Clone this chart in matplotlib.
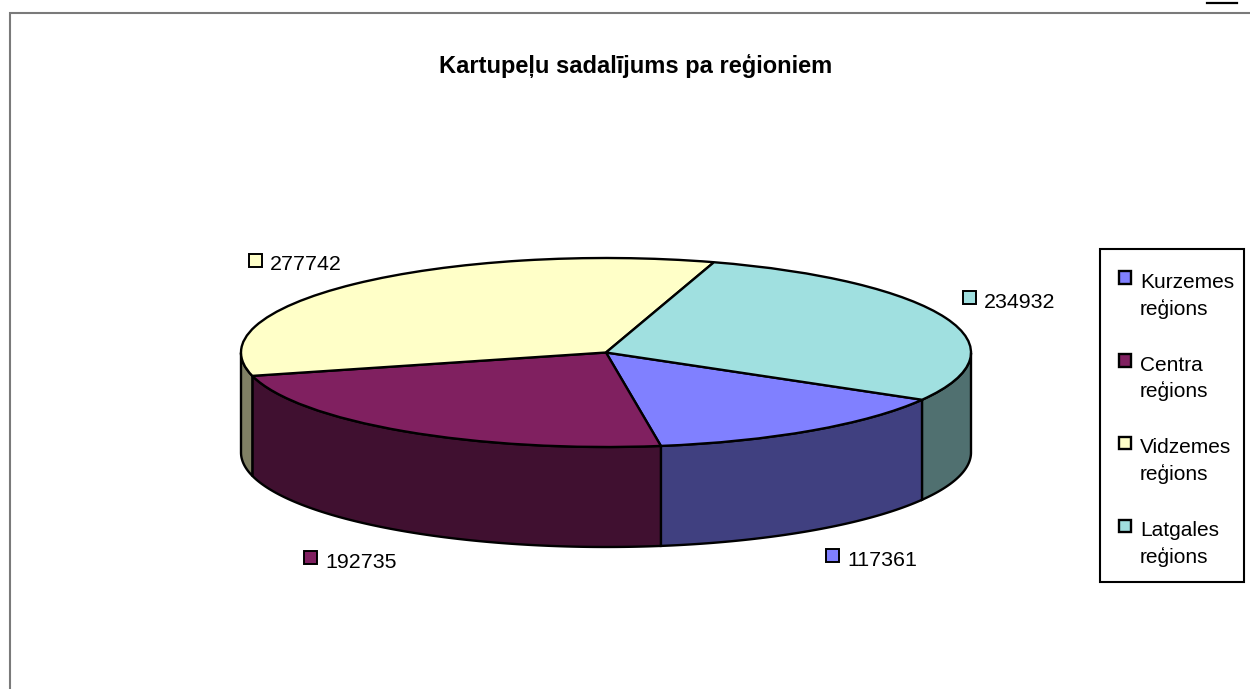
import numpy as np
import matplotlib
matplotlib.use('Agg')
import matplotlib.pyplot as plt
from matplotlib.patches import Rectangle, Wedge
from matplotlib.legend_handler import HandlerPatch

plt.rcParams['font.family'] = ['Liberation Sans', 'DejaVu Sans']

title = 'Kartupeļu sadalījums pa reģioniem'
regions = ['Kurzemes\nreģions', 'Centra\nreģions', 'Vidzemes\nreģions', 'Latgales\nreģions']
values = [117361, 192735, 277742, 234932]
top_colors = ['#8080FF', '#802060', '#FFFFC8', '#A0E0E0']
side_colors = ['#404080', '#401030', '#808064', '#507070']

W, H = 1250, 689
fs = 15
start = -30
depth = 100 / 94.5

fig = plt.figure(figsize=(W / 100, H / 100), dpi=100)

# top of the pie, stretched to an ellipse by the axes box
ax = fig.add_axes([241 / W, 1 - 447 / H, 730 / W, 189 / H])
wedges, _ = ax.pie(values, startangle=start, counterclock=False, colors=top_colors,
                   wedgeprops=dict(edgecolor='black', linewidth=1.7, clip_on=False, zorder=5))
ax.set_aspect('auto')
ax.set_xlim(-1, 1)
ax.set_ylim(-1, 1)

# side wall, only the front half of the rim shows
angles = start - np.cumsum([0] + values) / sum(values) * 360
for i in range(len(values)):
    t = np.radians(np.linspace(angles[i], angles[i + 1], 600))
    t = t[np.sin(t) <= 0]
    x = np.cos(t)
    y = np.sin(t)
    ax.fill(np.r_[x, x[::-1]], np.r_[y, y[::-1] - depth], facecolor=side_colors[i],
            edgecolor='black', linewidth=1.7, clip_on=False, zorder=2)

# pixel overlay for the frame, title and labels
ov = fig.add_axes([0, 0, 1, 1], zorder=10)
ov.set_xlim(0, W)
ov.set_ylim(H, 0)
ov.axis('off')
ov.patch.set_alpha(0)

ov.plot([9.5, 9.5, W], [H, 12.5, 12.5], color='#7a7a7a', lw=1.5, solid_joinstyle='miter')
ov.plot([1207, 1237], [3, 3], color='black', lw=1.6)
ov.text(636, 66, title, fontsize=17, fontweight='bold', ha='center', va='center')

label_xy = [(847, 560), (325, 562), (270, 265), (984, 302)]
for i in range(len(values)):
    lx, ly = label_xy[i]
    ov.add_patch(Rectangle((lx - 21, ly - 11), 12.5, 12.5, facecolor=top_colors[i],
                           edgecolor='black', linewidth=1.4))
    ov.text(lx, ly, str(values[i]), fontsize=15.4, ha='left', va='center')


def top_line_square(legend, orig_handle, xdescent, ydescent, width, height, fontsize):
    # square sits beside the first line of the two line label
    return Rectangle((-xdescent, -ydescent + 13.4), width, width)


ov.add_patch(Rectangle((1099.5, 248.5), 144.5, 333.5, facecolor='white', edgecolor='black',
                       linewidth=1.5))
leg = ov.legend(wedges, regions, loc='upper left', bbox_to_anchor=(1099 / W, 1 - 253 / H),
                bbox_transform=fig.transFigure, fontsize=fs, frameon=False,
                handlelength=0.6, handleheight=0.6,
                handletextpad=0.41, labelspacing=1.77, borderpad=0.95, borderaxespad=0,
                handler_map={Wedge: HandlerPatch(patch_func=top_line_square)})
for t in leg.get_texts():
    t.set_linespacing(1.43)

fig.savefig('out.png', dpi=100)
